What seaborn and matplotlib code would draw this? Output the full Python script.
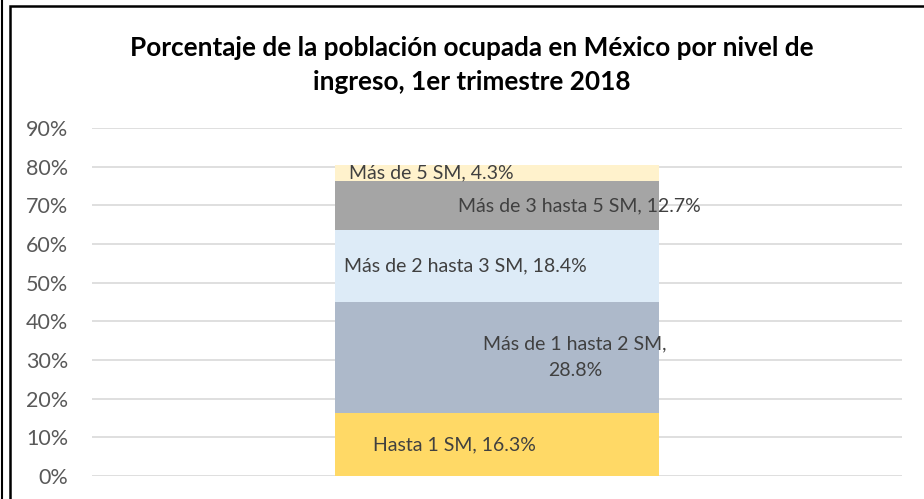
import numpy as np
import pandas as pd
import seaborn as sns
import matplotlib.pyplot as plt
from matplotlib.patches import Rectangle
from matplotlib.lines import Line2D

sns.set_theme(style="white")
plt.rcParams['font.family'] = ['Lato', 'DejaVu Sans']

# data (percent of employed population by income level, 1Q 2018)
niveles = ['Hasta 1 SM', 'Más de 1 hasta 2 SM', 'Más de 2 hasta 3 SM',
           'Más de 3 hasta 5 SM', 'Más de 5 SM']
porcentajes = [16.3, 28.8, 18.4, 12.7, 4.3]
colores = ['#FFD966', '#ADB9CA', '#DDEBF7', '#A5A5A5', '#FFF2CC']
categoria = ['2018']
yticks = [0, 10, 20, 30, 40, 50, 60, 70, 80, 90]

# label placement tweaks (x offset in data units)
label_dx = [-0.053, 0.096, -0.039, 0.102, -0.081]
label_txt = ['Hasta 1 SM, 16.3%', 'Más de 1 hasta 2 SM,\n28.8%',
             'Más de 2 hasta 3 SM, 18.4%', 'Más de 3 hasta 5 SM, 12.7%',
             'Más de 5 SM, 4.3%']

acum = np.cumsum(porcentajes)
df = pd.DataFrame({'nivel': niveles, 'valor': porcentajes, 'acum': acum})

fig = plt.figure(figsize=(9.24, 4.99), dpi=100)
ax = fig.add_axes([0.0996, 0.046, 0.8766, 0.6975])

# stacked bar: draw cumulative totals from the top down
for i in range(len(df) - 1, -1, -1):
    sns.barplot(x=categoria, y=[df['acum'][i]], color=colores[i],
                width=0.4, saturation=1, linewidth=0, ax=ax, zorder=2)

for i in range(len(df)):
    centro = df['acum'][i] - df['valor'][i] / 2
    ax.text(0 + label_dx[i], centro, label_txt[i], ha='center', va='center',
            fontsize=14, color='#404040', zorder=3, linespacing=1.72)

ax.set_xlim(-0.5, 0.5)
ax.set_ylim(0, 90)
ax.set_yticks(yticks)
ax.set_yticklabels([f'{t}%' for t in yticks], fontsize=15.5, color='#595959')
ax.set_xticks([])
ax.set_xlabel('')
ax.set_ylabel('')
ax.tick_params(axis='y', length=0, pad=17)
ax.yaxis.grid(True, color='#D9D9D9', linewidth=1.2, zorder=0)
ax.set_axisbelow(True)
for s in ax.spines.values():
    s.set_visible(False)

fig.text(0.511, 0.869,
         'Porcentaje de la población ocupada en México por nivel de\ningreso, 1er trimestre 2018',
         ha='center', va='center', fontsize=18.8, fontweight='bold',
         color='black', linespacing=1.5)

# frame lines
fig.add_artist(Line2D([1.5 / 924, 1.5 / 924], [0, 1], color='black',
                      linewidth=1.5, transform=fig.transFigure))
fig.add_artist(Rectangle((10 / 924, -0.1), 1.2, 1 - 6 / 499 + 0.1,
                         fill=False, edgecolor='black', linewidth=1.8,
                         transform=fig.transFigure))

fig.savefig('out.png', dpi=100)
